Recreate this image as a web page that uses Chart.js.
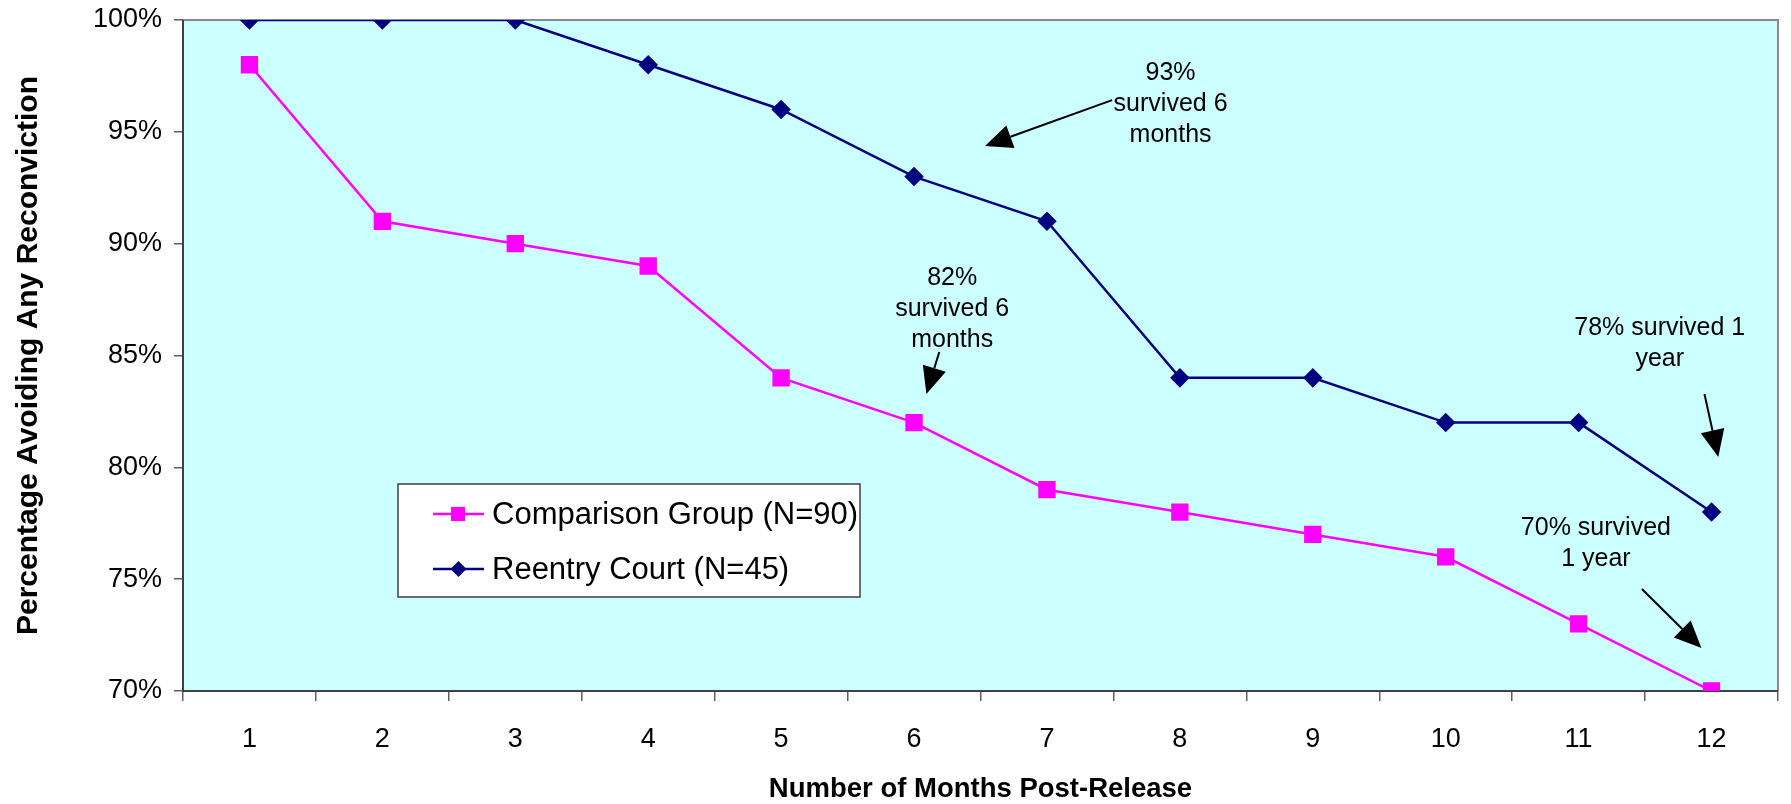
<!DOCTYPE html>
<html>
<head>
<meta charset="utf-8">
<script src="https://cdn.jsdelivr.net/npm/chart.js@4.4.1/dist/chart.umd.min.js"></script>
<style>
  html, body { margin: 0; padding: 0; background: #fff; }
  #wrap { width: 1791px; height: 804px; }
</style>
</head>
<body>
<div id="wrap"><canvas id="survivalChart"></canvas></div>
<script>
// survival data
const months = ['1', '2', '3', '4', '5', '6', '7', '8', '9', '10', '11', '12'];
const comparison = [98, 91, 90, 89, 84, 82, 79, 78, 77, 76, 73, 70];
const reentry = [100, 100, 100, 98, 96, 93, 91, 84, 84, 82, 82, 78];
const yMin = 70, yMax = 100, yStep = 5;

// callouts: text lines anchored at (category index, percent)
const notes = [
    { lines: ['93%', 'survived 6', 'months'], at: [6.93, 97.63] },
    { lines: ['82%', 'survived 6', 'months'], at: [5.287, 88.46] },
    { lines: ['78% survived 1', 'year'], at: [10.61, 86.23] },
    { lines: ['70% survived', '1 year'], at: [10.13, 77.29] }
];
const arrows = [
    { from: [6.49, 96.42], to: [5.534, 94.37] },
    { from: [5.190, 85.16], to: [5.093, 83.28] },
    { from: [10.947, 83.28], to: [11.051, 80.46] },
    { from: [10.476, 74.56], to: [10.924, 71.92] }
];

const FONT = '"Liberation Sans", Arial, sans-serif';

const plotBackground = {
    id: 'plotBackground',
    beforeDraw(chart) {
        const { ctx, chartArea: a } = chart;
        ctx.save();
        ctx.fillStyle = '#CCFFFF';
        ctx.fillRect(a.left, a.top, a.right - a.left, a.bottom - a.top);
        ctx.restore();
    },
    beforeDatasetsDraw(chart) {
        const { ctx, chartArea: a } = chart;
        ctx.save();
        ctx.strokeStyle = '#8a8a8a';
        ctx.lineWidth = 2;
        ctx.beginPath();
        ctx.moveTo(a.left, a.top);
        ctx.lineTo(a.right, a.top);
        ctx.lineTo(a.right, a.bottom);
        ctx.stroke();
        ctx.strokeStyle = '#404040';
        ctx.beginPath();
        ctx.moveTo(a.left, a.top);
        ctx.lineTo(a.left, a.bottom);
        ctx.lineTo(a.right, a.bottom);
        ctx.stroke();
        ctx.restore();
    }
};

const callouts = {
    id: 'callouts',
    afterDatasetsDraw(chart) {
        const { ctx } = chart;
        const xs = chart.scales.x, ys = chart.scales.y;
        const px = v => xs.getPixelForValue(v);
        ctx.save();
        ctx.fillStyle = '#000';
        ctx.font = '25px ' + FONT;
        ctx.textAlign = 'center';
        ctx.textBaseline = 'middle';
        notes.forEach(n => {
            const x = px(n.at[0]);
            const y = ys.getPixelForValue(n.at[1]);
            n.lines.forEach((t, i) => ctx.fillText(t, x, y + i * 31));
        });
        ctx.strokeStyle = '#000';
        ctx.lineWidth = 2;
        arrows.forEach(a => {
            const x1 = px(a.from[0]), y1 = ys.getPixelForValue(a.from[1]);
            const x2 = px(a.to[0]), y2 = ys.getPixelForValue(a.to[1]);
            const ang = Math.atan2(y2 - y1, x2 - x1);
            const len = 27, half = 12;
            const bx = x2 - Math.cos(ang) * len, by = y2 - Math.sin(ang) * len;
            ctx.beginPath();
            ctx.moveTo(x1, y1);
            ctx.lineTo(bx, by);
            ctx.stroke();
            ctx.beginPath();
            ctx.moveTo(x2, y2);
            ctx.lineTo(bx + Math.sin(ang) * half, by - Math.cos(ang) * half);
            ctx.lineTo(bx - Math.sin(ang) * half, by + Math.cos(ang) * half);
            ctx.closePath();
            ctx.fill();
        });
        ctx.restore();
    }
};

const boxLegend = {
    id: 'boxLegend',
    afterDraw(chart) {
        const { ctx } = chart;
        const box = { x: 398, y: 484, w: 462, h: 113 };
        ctx.save();
        ctx.fillStyle = '#fff';
        ctx.fillRect(box.x, box.y, box.w, box.h);
        ctx.strokeStyle = '#404040';
        ctx.lineWidth = 1.5;
        ctx.strokeRect(box.x, box.y, box.w, box.h);
        ctx.font = '31px ' + FONT;
        ctx.textBaseline = 'middle';
        ctx.textAlign = 'left';
        chart.data.datasets.forEach((ds, i) => {
            const cy = box.y + 30 + i * 55;
            const lx = box.x + 35;
            ctx.strokeStyle = ds.borderColor;
            ctx.lineWidth = 2.5;
            ctx.beginPath();
            ctx.moveTo(lx, cy);
            ctx.lineTo(lx + 51, cy);
            ctx.stroke();
            ctx.fillStyle = ds.backgroundColor;
            ctx.beginPath();
            if (ds.pointStyle === 'rect') {
                ctx.rect(lx + 18, cy - 7, 14, 14);
            } else {
                ctx.moveTo(lx + 25.5, cy - 8);
                ctx.lineTo(lx + 33.5, cy);
                ctx.lineTo(lx + 25.5, cy + 8);
                ctx.lineTo(lx + 17.5, cy);
                ctx.closePath();
            }
            ctx.fill();
            ctx.fillStyle = '#000';
            ctx.fillText(ds.label, lx + 59, cy + 1);
        });
        ctx.restore();
    }
};

const ctx = document.getElementById('survivalChart').getContext('2d');
new Chart(ctx, {
    type: 'line',
    data: {
        labels: months,
        datasets: [
            {
                label: 'Comparison Group (N=90)',
                data: comparison,
                borderColor: '#FF00FF',
                backgroundColor: '#FF00FF',
                borderWidth: 2.5,
                pointStyle: 'rect',
                pointRadius: 10.5,
                pointHoverRadius: 10.5,
                tension: 0
            },
            {
                label: 'Reentry Court (N=45)',
                data: reentry,
                borderColor: '#000080',
                backgroundColor: '#000080',
                borderWidth: 2.5,
                pointStyle: 'rectRot',
                pointRadius: 8,
                pointHoverRadius: 8,
                tension: 0
            }
        ]
    },
    options: {
        responsive: true,
        maintainAspectRatio: false,
        animation: false,
        layout: { padding: { top: 20, right: 3, left: 0, bottom: 0 } },
        plugins: {
            legend: { display: false },
            tooltip: { enabled: false }
        },
        scales: {
            x: {
                offset: true,
                grid: { offset: true, drawOnChartArea: false, tickLength: 10, color: '#606060', lineWidth: 1.5 },
                border: { display: false },
                ticks: { color: '#000', font: { family: FONT, size: 27 }, padding: 22, maxRotation: 0 },
                title: {
                    display: true,
                    text: 'Number of Months Post-Release',
                    color: '#000',
                    font: { family: FONT, size: 27.5, weight: 'bold', lineHeight: 1 },
                    padding: { top: 0, bottom: 1 }
                },
                afterFit(scale) {
                    scale.height = 113;
                    scale.paddingLeft = 0;
                    scale.paddingRight = 0;
                }
            },
            y: {
                min: yMin,
                max: yMax,
                grid: { drawOnChartArea: false, tickLength: 9, color: '#606060', lineWidth: 1.5 },
                border: { display: false },
                ticks: {
                    stepSize: yStep,
                    color: '#000',
                    font: { family: FONT, size: 27 },
                    padding: 12,
                    callback: v => v + '%'
                },
                title: {
                    display: true,
                    text: 'Percentage Avoiding Any Reconviction',
                    color: '#000',
                    font: { family: FONT, size: 30, weight: 'bold', lineHeight: 1 },
                    padding: { top: 14, bottom: 0 }
                },
                afterFit(scale) {
                    scale.width = 183;
                    scale.paddingTop = 0;
                    scale.paddingBottom = 0;
                }
            }
        }
    },
    plugins: [plotBackground, callouts, boxLegend]
});
</script>
</body>
</html>
